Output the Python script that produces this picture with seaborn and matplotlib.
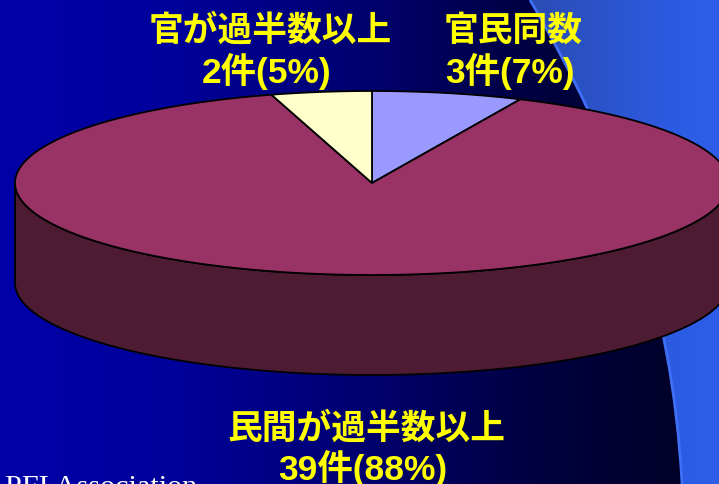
import numpy as np
import seaborn as sns
import matplotlib
matplotlib.use("Agg")
import matplotlib.pyplot as plt
from matplotlib.colors import LinearSegmentedColormap
from matplotlib.patches import Polygon, PathPatch
from matplotlib.path import Path

categories = ["官民同数", "民間が過半数以上", "官が過半数以上"]
counts = [3, 39, 2]
shares = ["7", "88", "5"]
slice_colors = ["#9999FF", "#993366", "#FFFFCC"]
side_colors = ["#4D4D80", "#4D1C33", "#808066"]
footer = "PFI Association"

sns.set_theme(style="white")
plt.rcParams["font.family"] = ["Noto Sans CJK JP", "DejaVu Sans"]

fig = plt.figure(figsize=(7.19, 4.84), dpi=100)
ax = fig.add_axes([0, 0, 1, 1])
ax.set_xlim(0, 719)
ax.set_ylim(484, 0)
ax.axis("off")

# background gradient
bg = LinearSegmentedColormap.from_list("bg", ["#0000A8", "#00009A", "#000070", "#000040", "#000022"])
grad = np.linspace(0, 1, 719)[None, :]
ax.imshow(grad, cmap=bg, extent=(0, 719, 484, 0), aspect="auto", zorder=0)

# curved decoration on the right
verts = [(530, 0), (618, 150), (672, 300), (682, 484), (719, 484), (719, 0), (530, 0)]
codes = [Path.MOVETO, Path.CURVE4, Path.CURVE4, Path.CURVE4, Path.LINETO, Path.LINETO, Path.CLOSEPOLY]
shape = Path(verts, codes)
cm2 = LinearSegmentedColormap.from_list("side", ["#2A4CB4", "#2D5CE6"])
im = ax.imshow(np.linspace(0, 1, 100)[None, :], cmap=cm2, extent=(530, 690, 484, 0), aspect="auto", zorder=1)
patch = PathPatch(shape, fc="#2D5CE6", ec="none", zorder=0.9)
ax.add_patch(patch)
im.set_clip_path(patch)
ax.add_patch(PathPatch(Path(verts[:4], codes[:4]), fc="none", ec="#3F6FF5", lw=2, zorder=1.5))
ax.set_xlim(0, 719)
ax.set_ylim(484, 0)

# 3-D pie
cx, cy, a, b, depth = 372, 183, 357, 92, 100
total = sum(counts)
fractions = np.array(counts) / total
starts = np.concatenate([[0], np.cumsum(fractions)[:-1]]) * 2 * np.pi
ends = np.cumsum(fractions) * 2 * np.pi

def ell(t):
    return np.column_stack([cx + a * np.sin(t), cy - b * np.cos(t)])

# side wall (visible front half)
for s, e, col in zip(starts, ends, side_colors):
    lo, hi = max(s, np.pi / 2), min(e, 3 * np.pi / 2)
    if hi > lo:
        t = np.linspace(lo, hi, 300)
        top = ell(t)
        bottom = top + np.array([0, depth])
        ax.add_patch(Polygon(np.vstack([top, bottom[::-1]]), closed=True, fc=col, ec="black", lw=1.3, zorder=3))

# top face
for s, e, col in zip(starts, ends, slice_colors):
    t = np.linspace(s, e, 400)
    pts = np.vstack([[cx, cy], ell(t)])
    ax.add_patch(Polygon(pts, closed=True, fc=col, ec="black", lw=1.3, joinstyle="miter", zorder=4))

# labels
label_pos = [(513, 30, 510, 71), (366, 428, 363, 468), (270, 30, 267, 71)]
latin = ["Liberation Sans", "Noto Sans CJK JP"]
for cat, n, sh, (x1, y1, x2, y2) in zip(categories, counts, shares, label_pos):
    ax.text(x1, y1, cat, color="#FFFF00", fontsize=25, fontweight="bold",
            ha="center", va="center", zorder=6)
    ax.text(x2, y2, f"{n}件({sh}%)", color="#FFFF00", fontsize=25.5, fontweight="bold",
            family=latin, ha="center", va="center", zorder=6)

ax.text(5, 495, footer, color="white", fontsize=21.8, family="Liberation Serif",
        ha="left", va="baseline", zorder=6, clip_on=True)

fig.savefig("out.png", dpi=100)
